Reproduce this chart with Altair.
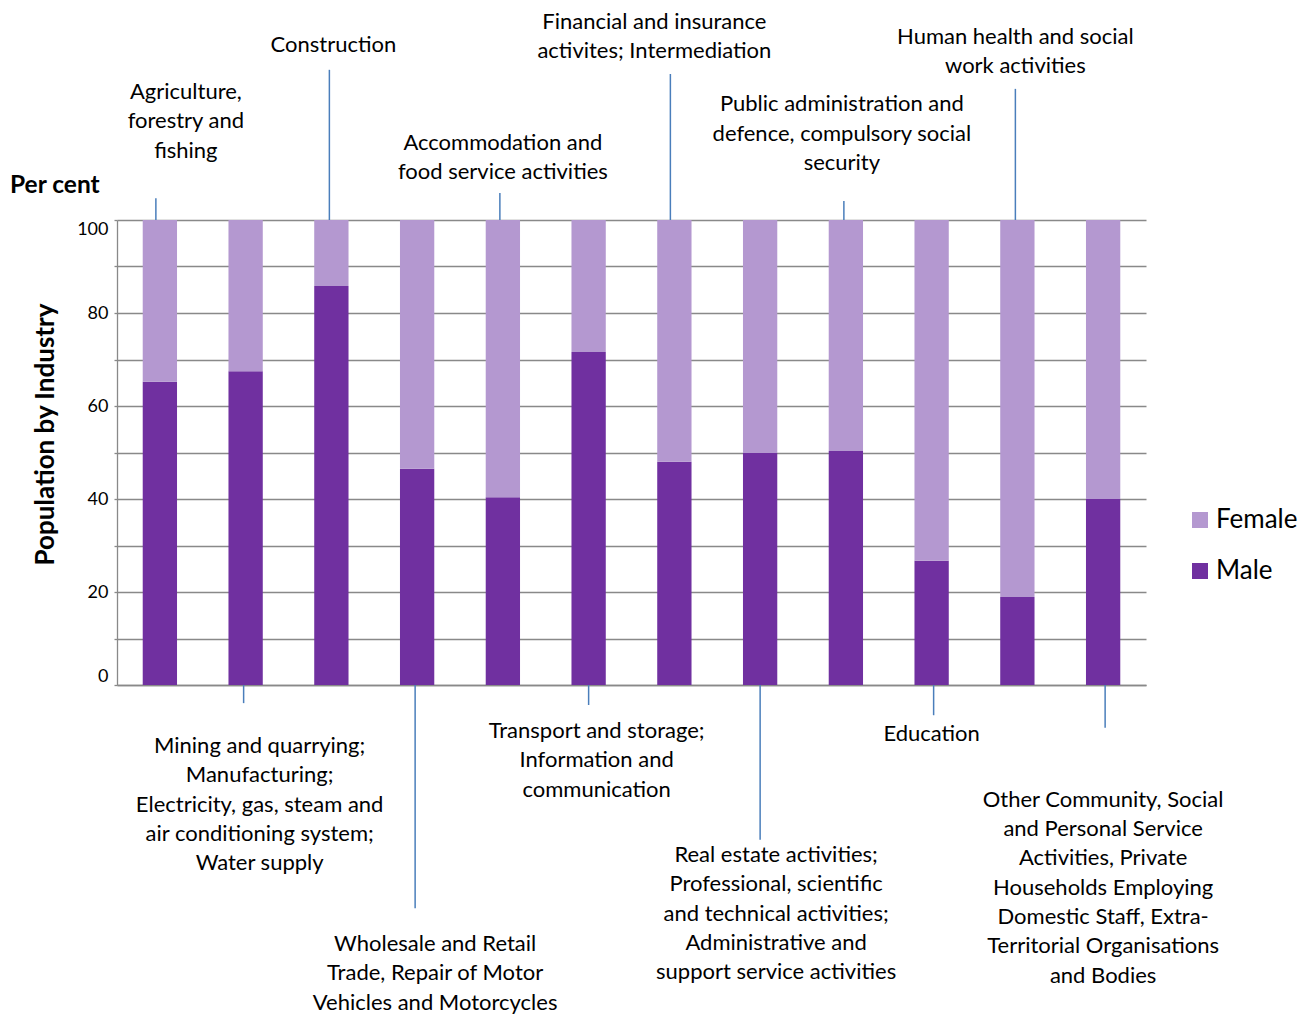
import altair as alt
import pandas as pd

FONT = "Lato"
MALE_COLOR = "#7030A0"
FEMALE_COLOR = "#B498D0"
GRID_COLOR = "#898989"
LEADER_COLOR = "#4A7EBB"

# Industries in display order
industries = [
    "Agriculture, forestry and fishing",
    "Mining and quarrying; Manufacturing; Electricity, gas, steam and air conditioning system; Water supply",
    "Construction",
    "Wholesale and Retail Trade, Repair of Motor Vehicles and Motorcycles",
    "Accommodation and food service activities",
    "Transport and storage; Information and communication",
    "Financial and insurance activites; Intermediation",
    "Real estate activities; Professional, scientific and technical activities; Administrative and support service activities",
    "Public administration and defence, compulsory social security",
    "Education",
    "Human health and social work activities",
    "Other Community, Social and Personal Service Activities, Private Households Employing Domestic Staff, Extra-Territorial Organisations and Bodies",
]

# Share of employed population by sex (per cent)
male = [65.2, 67.5, 85.8, 46.5, 40.4, 71.6, 48.0, 49.9, 50.3, 26.7, 18.9, 40.0]
female = [34.8, 32.5, 14.2, 53.5, 59.6, 28.4, 52.0, 50.1, 49.7, 73.3, 81.1, 60.0]

# Wrapped call-out text for each industry
label_text = [
    "Agriculture,\nforestry and\nfishing",
    "Mining and quarrying;\nManufacturing;\nElectricity, gas, steam and\nair conditioning system;\nWater supply",
    "Construction",
    "Wholesale and Retail\nTrade, Repair of Motor\nVehicles and Motorcycles",
    "Accommodation and\nfood service activities",
    "Transport and storage;\nInformation and\ncommunication",
    "Financial and insurance\nactivites; Intermediation",
    "Real estate activities;\nProfessional, scientific\nand technical activities;\nAdministrative and\nsupport service activities",
    "Public administration and\ndefence, compulsory social\nsecurity",
    "Education",
    "Human health and social\nwork activities",
    "Other Community, Social\nand Personal Service\nActivities, Private\nHouseholds Employing\nDomestic Staff, Extra-\nTerritorial Organisations\nand Bodies",
]

# Call-out placement: first-line height on the per-cent scale, shift in px from the bar centre
label_y = [127.5, -13.1, 137.6, -55.7, 116.6, -9.9, 142.6, -36.6, 124.9, -10.5, 139.4, -24.7]
label_dx = [26, 14, 2, 18, 0, 8, -20, 16, -4, 0, -2, 0]

# Leader lines, from the bar end to the call-out, on the per-cent scale
lead_from = [100, 0, 100, 0, 100, 0, 100, 0, 100, 0, 100, 0]
lead_to = [104.7, -3.9, 132.3, -48.0, 105.8, -4.3, 131.4, -33.3, 104.1, -6.5, 128.2, -9.2]
lead_dx = [-4, -2, -2, -2, -3, 0, -4, 0, -2, 2, -2, 2]

# Band layout: 12 slots across 1029 px, bars take 40% of each slot
PLOT_W, PLOT_H = 1029, 465
BAR_FRACTION = 0.4
HALF_BAR = PLOT_W / len(industries) * BAR_FRACTION / 2  # xOffset is measured from the band start

bars_df = pd.DataFrame({
    "industry": industries * 2,
    "sex": ["Male"] * len(industries) + ["Female"] * len(industries),
    "pct": male + female,
    "rank": [0] * len(industries) + [1] * len(industries),
})

ann_df = pd.DataFrame({
    "industry": industries,
    "label": label_text,
    "label_y": label_y,
    "label_dx": [d + HALF_BAR for d in label_dx],
    "lead_from": lead_from,
    "lead_to": lead_to,
    "lead_dx": [d + HALF_BAR for d in lead_dx],
})

x_axis = alt.Axis(labels=False, ticks=False, title=None, grid=False,
                  domainColor=GRID_COLOR, domainWidth=1.3)
x_scale = alt.Scale(paddingInner=1 - BAR_FRACTION, paddingOuter=(1 - BAR_FRACTION) / 2)

y_scale = alt.Scale(domain=[0, 100], nice=False, zero=True)
y_axis = alt.Axis(
    values=list(range(0, 101, 10)),
    labelExpr="datum.value % 20 === 0 ? datum.label : ''",
    labelFlush=True, labelFlushOffset=0,
    grid=True, gridColor=GRID_COLOR, gridWidth=1.3,
    domainColor=GRID_COLOR, domainWidth=1.3,
    tickColor=GRID_COLOR, tickSize=3, tickWidth=1.3,
    labelFont=FONT, labelFontSize=18, labelColor="#000000", labelPadding=6,
    title="Population by Industry",
    titleFont=FONT, titleFontSize=26, titleFontWeight="bold", titleColor="#000000",
    titleAngle=-90, titleX=-72, titleY=214,
    titleAlign="center", titleBaseline="middle",
)

bars = alt.Chart(bars_df).mark_bar().encode(
    x=alt.X("industry:N", sort=industries, scale=x_scale, axis=x_axis),
    y=alt.Y("pct:Q", stack="zero", scale=y_scale, axis=y_axis),
    color=alt.Color(
        "sex:N",
        scale=alt.Scale(domain=["Female", "Male"], range=[FEMALE_COLOR, MALE_COLOR]),
        legend=alt.Legend(
            title=None, orient="none", legendX=1070, legendY=287,
            symbolType="square", symbolSize=256, symbolStrokeWidth=0, symbolOpacity=1,
            labelFont=FONT, labelFontSize=26, labelColor="#000000",
            rowPadding=25, labelOffset=3, padding=0,
        ),
    ),
    order=alt.Order("rank:Q"),
)

leaders = alt.Chart(ann_df).mark_rule(color=LEADER_COLOR, strokeWidth=1.5).encode(
    x=alt.X("industry:N", sort=industries, scale=x_scale, axis=x_axis),
    xOffset=alt.XOffset("lead_dx:Q", scale=None),
    y=alt.Y("lead_from:Q", scale=y_scale, axis=y_axis),
    y2="lead_to:Q",
)

labels = alt.Chart(ann_df).mark_text(
    font=FONT, fontSize=22, lineBreak="\n", lineHeight=29.3,
    align="center", baseline="middle", color="#000000",
).encode(
    x=alt.X("industry:N", sort=industries, scale=x_scale, axis=x_axis),
    xOffset=alt.XOffset("label_dx:Q", scale=None),
    y=alt.Y("label_y:Q", scale=y_scale, axis=y_axis),
    text="label:N",
)

unit_label = alt.Chart(pd.DataFrame({"t": ["Per cent"]})).mark_text(
    font=FONT, fontSize=24.5, fontWeight="bold", align="left", baseline="middle", color="#000000",
).encode(
    x=alt.value(-107),
    y=alt.value(-34),
    text="t:N",
)

chart = alt.layer(bars, leaders, labels, unit_label).properties(
    width=PLOT_W,
    height=PLOT_H,
    padding={"left": 117, "top": 220, "right": 154, "bottom": 329},
    autosize=alt.AutoSizeParams(type="none"),
    background="white",
).configure_view(stroke=None)

chart.save("out.html", embed_options={"renderer": "svg", "actions": False})
